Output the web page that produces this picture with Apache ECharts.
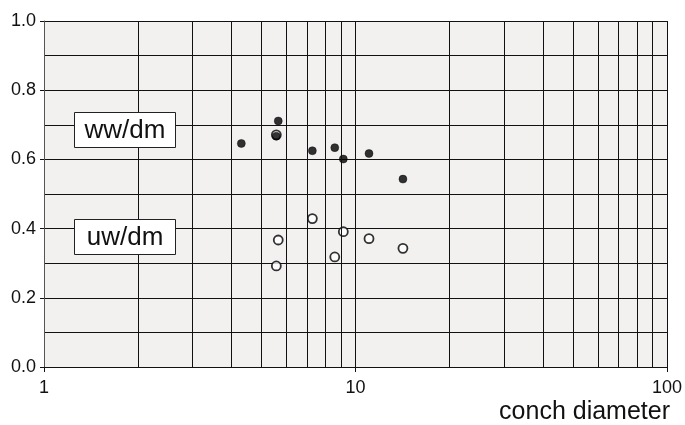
<!DOCTYPE html>
<html>
<head>
<meta charset="utf-8">
<script src="https://cdn.jsdelivr.net/npm/echarts@6/dist/echarts.min.js"></script>
<style>
  html, body { margin: 0; padding: 0; background: #fff; }
  #chart { width: 685px; height: 425px; }
</style>
</head>
<body>
<div id="chart"></div>
<script>
// conch diameter vs ratios (log x axis)
var wwX = [4.3, 5.65, 5.57, 7.27, 8.58, 9.14, 11.05, 14.2];
var wwY = [0.646, 0.711, 0.667, 0.625, 0.634, 0.601, 0.617, 0.543];
var uwX = [5.57, 7.27, 9.14, 5.65, 11.05, 14.2, 8.58, 5.57];
var uwY = [0.671, 0.429, 0.391, 0.367, 0.371, 0.343, 0.318, 0.292];
// vertical log grid lines
var gridX = [2, 3, 4, 5, 6, 7, 8, 9, 20, 30, 40, 50, 60, 70, 80, 90];

function pairs(xs, ys) {
  var out = [];
  for (var i = 0; i < xs.length; i++) out.push([xs[i], ys[i]]);
  return out;
}

var myChart = echarts.init(document.getElementById('chart'));
var font = 'Liberation Sans, Arial, sans-serif';

function labelBox(top, txt) {
  return {
    type: 'group', left: 74, top: top, z: 100,
    children: [
      { type: 'rect', z: 100, shape: { x: 0, y: 0, width: 101, height: 35 },
        style: { fill: '#fff', stroke: '#222', lineWidth: 1 } },
      { type: 'text', z: 101, x: 50.5, y: 18,
        style: { text: txt, fill: '#111', font: '26px ' + font,
                 textAlign: 'center', textVerticalAlign: 'middle' } }
    ]
  };
}

var option = {
  animation: false,
  backgroundColor: '#ffffff',
  grid: {
    left: 44, right: 17, top: 21, bottom: 58,
    show: true, backgroundColor: '#f2f1f0', borderWidth: 0
  },
  xAxis: {
    type: 'log',
    logBase: 10,
    min: 1,
    max: 100,
    axisLine: { show: true, lineStyle: { color: '#111', width: 1 } },
    axisTick: { show: true, length: 5, lineStyle: { color: '#111' } },
    axisLabel: { color: '#111', fontSize: 18, fontFamily: font, margin: 12 },
    splitLine: { show: true, lineStyle: { color: '#111', width: 1 } }
  },
  yAxis: {
    type: 'value',
    min: 0,
    max: 1,
    interval: 0.2,
    axisLine: { show: true, lineStyle: { color: '#555', width: 1 } },
    axisTick: { show: true, length: 4, lineStyle: { color: '#111' } },
    axisLabel: {
      color: '#111', fontSize: 18, fontFamily: font, margin: 8,
      formatter: function (v) { return v.toFixed(1); }
    },
    splitLine: { show: true, lineStyle: { color: '#111', width: 1 } },
    minorTick: { show: false, splitNumber: 2 },
    minorSplitLine: { show: true, lineStyle: { color: '#111', width: 1 } }
  },
  series: [
    {
      name: 'grid',
      type: 'scatter',
      data: [],
      silent: true,
      z: 1,
      markLine: {
        silent: true,
        symbol: 'none',
        label: { show: false },
        lineStyle: { color: '#111', width: 1, type: 'solid' },
        data: gridX.map(function (v) { return { xAxis: v }; })
      }
    },
    {
      name: 'uw/dm',
      type: 'scatter',
      symbol: 'circle',
      symbolSize: 9,
      itemStyle: { color: '#ffffff', borderColor: '#000', borderWidth: 1.8 },
      data: pairs(uwX, uwY),
      z: 3
    },
    {
      name: 'ww/dm',
      type: 'scatter',
      symbol: 'circle',
      symbolSize: 8,
      itemStyle: { color: '#000', borderColor: '#000', borderWidth: 0.5 },
      data: pairs(wwX, wwY),
      z: 4
    }
  ],
  graphic: [
    labelBox(112, 'ww/dm'),
    labelBox(219, 'uw/dm'),
    {
      type: 'text', right: 15, top: 400, z: 100,
      style: { text: 'conch diameter', fill: '#111', font: '25px ' + font }
    }
  ]
};

myChart.setOption(option);
</script>
</body>
</html>
